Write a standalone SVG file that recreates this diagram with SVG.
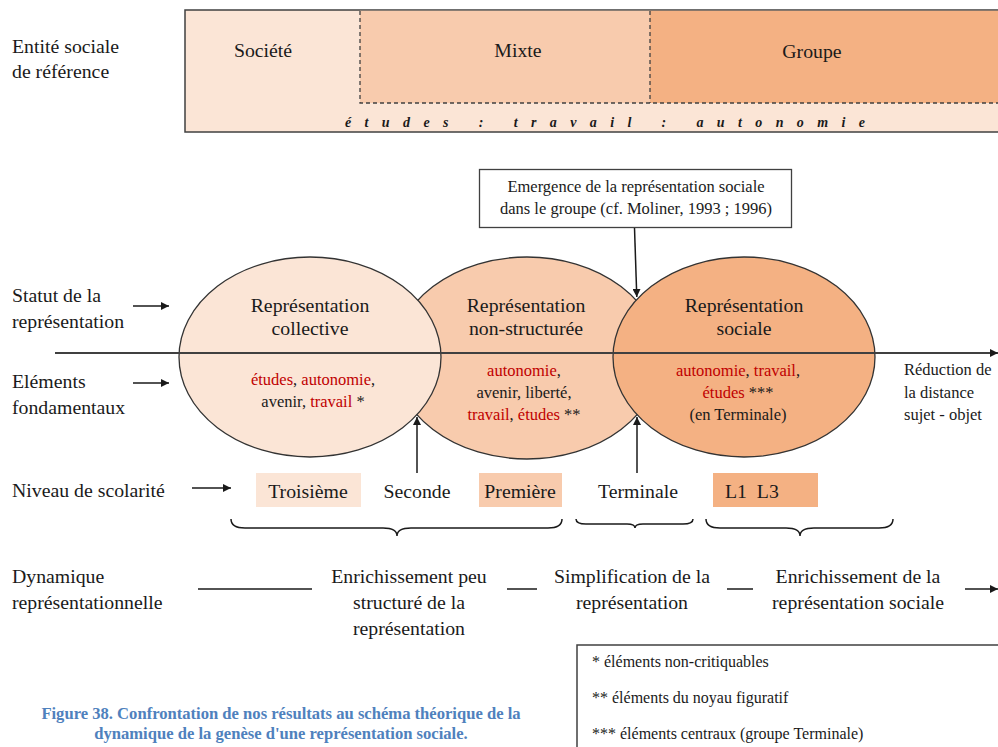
<svg xmlns="http://www.w3.org/2000/svg" width="998" height="747" viewBox="0 0 998 747">
<style>
text{font-family:"Liberation Serif","Times New Roman",serif;fill:#1a1a1a}
.lbl{font-size:19.8px}
.big{font-size:19.8px}
.mid{font-size:16.5px}
.c{text-anchor:middle}
.r{fill:#c00000}
.ln{stroke:#1a1a1a;stroke-width:1.5;fill:none}
.ell{stroke:#333;stroke-width:1.3}
.dash{stroke:#404040;stroke-width:1.3;stroke-dasharray:4 3;fill:none}
.leg{font-size:16px}
.cap{font-size:16.6px;font-weight:bold;fill:#4f81bd}
</style>
<defs>
<marker id="ah" viewBox="0 0 10 10" refX="10" refY="5" markerWidth="8" markerHeight="8" markerUnits="userSpaceOnUse" orient="auto">
<path d="M0,0 L10,5 L0,10 z" fill="#1a1a1a"/>
</marker>
</defs>
<rect width="998" height="747" fill="#ffffff"/>

<g id="left-labels">
<text class="lbl" x="12" y="53">Entité sociale</text>
<text class="lbl" x="12" y="78">de référence</text>
<text class="lbl" x="12" y="302">Statut de la</text>
<text class="lbl" x="12" y="328">représentation</text>
<text class="lbl" x="12" y="388">Eléments</text>
<text class="lbl" x="12" y="414">fondamentaux</text>
<text class="lbl" x="12" y="497">Niveau de scolarité</text>
<text class="lbl" x="12" y="583">Dynamique</text>
<text class="lbl" x="12" y="609">représentationnelle</text>
</g>

<g id="entity-band">
<rect x="185" y="10" width="820" height="122" fill="#fbe5d6" stroke="#404040" stroke-width="1.5"/>
<rect x="360" y="10.8" width="290" height="92.2" fill="#f8cbad"/>
<rect x="650" y="10.8" width="350" height="92.2" fill="#f4b183"/>
<path class="dash" d="M360,11 V103 H998 M650,11 V103"/>
<text class="lbl c" x="263" y="57">Société</text>
<text class="lbl c" x="518" y="57">Mixte</text>
<text class="lbl c" x="812" y="58">Groupe</text>
<text x="345" y="127" textLength="520" lengthAdjust="spacing" style="font-size:14px;font-style:italic;font-weight:bold">études : travail : autonomie</text>
</g>

<g id="emergence-box">
<rect x="479.5" y="169.5" width="312" height="58" fill="#ffffff" stroke="#404040" stroke-width="1.3"/>
<text class="mid c" x="636" y="192">Emergence de la représentation sociale</text>
<text class="mid c" x="636" y="214">dans le groupe (cf. Moliner, 1993 ; 1996)</text>
</g>

<g id="ellipse-nonstructuree">
<ellipse class="ell" cx="527" cy="358" rx="133" ry="101" fill="#f8cbad"/>
</g>
<g id="ellipse-collective">
<ellipse class="ell" cx="310" cy="357" rx="131" ry="100" fill="#fbe5d6"/>
</g>
<g id="ellipse-sociale">
<ellipse class="ell" cx="744" cy="357" rx="131" ry="100" fill="#f4b183"/>
</g>

<g id="connectors">
<line x1="55" y1="353" x2="998" y2="353" stroke="#404040" stroke-width="2" marker-end="url(#ah)"/>
<line class="ln" x1="133" y1="306" x2="169" y2="306" marker-end="url(#ah)"/>
<line class="ln" x1="133" y1="383" x2="169" y2="383" marker-end="url(#ah)"/>
<line class="ln" x1="192" y1="488" x2="231" y2="488" marker-end="url(#ah)"/>
<line class="ln" x1="634.5" y1="228" x2="636.8" y2="297" marker-end="url(#ah)"/>
<line class="ln" x1="417" y1="473" x2="417" y2="417" marker-end="url(#ah)"/>
<line class="ln" x1="637" y1="473" x2="637" y2="417" marker-end="url(#ah)"/>
<line class="ln" x1="198" y1="589" x2="312" y2="589"/>
<line class="ln" x1="507" y1="589" x2="537" y2="589"/>
<line class="ln" x1="727" y1="589" x2="753" y2="589"/>
<line class="ln" x1="965" y1="589" x2="998" y2="589" marker-end="url(#ah)"/>
<path class="ln" stroke-width="1.2" d="M231,519 Q231,528 245,528 L383,528 Q397,528 397,536 Q397,528 411,528 L548,528 Q562,528 562,519"/>
<path class="ln" stroke-width="1.2" d="M576,519 Q576,524 586,524 L627,524 Q635,524 635,528 Q635,524 643,524 L683,524 Q693,524 693,519"/>
<path class="ln" stroke-width="1.2" d="M706,519 Q706,528 720,528 L786,528 Q800,528 800,536 Q800,528 814,528 L879,528 Q893,528 893,519"/>
</g>

<g id="text-collective">
<text class="big c" x="310" y="312">Représentation</text>
<text class="big c" x="310" y="335">collective</text>
<text class="mid c" x="313" y="385"><tspan class="r">études</tspan>, <tspan class="r">autonomie</tspan>,</text>
<text class="mid c" x="313" y="407">avenir, <tspan class="r">travail</tspan> *</text>
</g>
<g id="text-nonstructuree">
<text class="big c" x="526" y="312">Représentation</text>
<text class="big c" x="526" y="335">non-structurée</text>
<text class="mid c" x="524" y="376"><tspan class="r">autonomie</tspan>,</text>
<text class="mid c" x="524" y="398">avenir, liberté,</text>
<text class="mid c" x="524" y="420"><tspan class="r">travail</tspan>, <tspan class="r">études</tspan> **</text>
</g>
<g id="text-sociale">
<text class="big c" x="744" y="312">Représentation</text>
<text class="big c" x="744" y="335">sociale</text>
<text class="mid c" x="738" y="376"><tspan class="r">autonomie</tspan>, <tspan class="r">travail</tspan>,</text>
<text class="mid c" x="738" y="398"><tspan class="r">études</tspan> ***</text>
<text class="mid c" x="738" y="420">(en Terminale)</text>
</g>

<g id="reduction">
<text class="mid" x="904" y="375">Réduction de</text>
<text class="mid" x="904" y="398">la distance</text>
<text class="mid" x="904" y="420">sujet - objet</text>
</g>

<g id="niveaux">
<rect x="256" y="473" width="105" height="34" fill="#fbe5d6"/>
<text class="lbl c" x="308" y="498">Troisième</text>
<text class="lbl c" x="417" y="498">Seconde</text>
<rect x="479" y="473" width="83" height="34" fill="#f8cbad"/>
<text class="lbl c" x="520" y="498">Première</text>
<text class="lbl c" x="638" y="498">Terminale</text>
<rect x="713" y="473" width="105" height="34" fill="#f4b183"/>
<text class="lbl" x="725" y="498" xml:space="preserve">L1  L3</text>
</g>

<g id="dynamique">
<text class="lbl c" x="409" y="583">Enrichissement peu</text>
<text class="lbl c" x="409" y="609">structuré de la</text>
<text class="lbl c" x="409" y="635">représentation</text>
<text class="lbl c" x="632" y="583">Simplification de la</text>
<text class="lbl c" x="632" y="609">représentation</text>
<text class="lbl c" x="858" y="583">Enrichissement de la</text>
<text class="lbl c" x="858" y="609">représentation sociale</text>
</g>

<g id="legend">
<rect x="577" y="645" width="430" height="110" fill="#ffffff" stroke="#404040" stroke-width="1.5"/>
<text class="leg" x="592" y="667">* éléments non-critiquables</text>
<text class="leg" x="592" y="703">** éléments du noyau figuratif</text>
<text class="leg" x="592" y="739">*** éléments centraux (groupe Terminale)</text>
</g>

<g id="caption">
<text class="cap c" x="281" y="719">Figure 38. Confrontation de nos résultats au schéma théorique de la</text>
<text class="cap c" x="281" y="739">dynamique de la genèse d'une représentation sociale.</text>
</g>
</svg>
